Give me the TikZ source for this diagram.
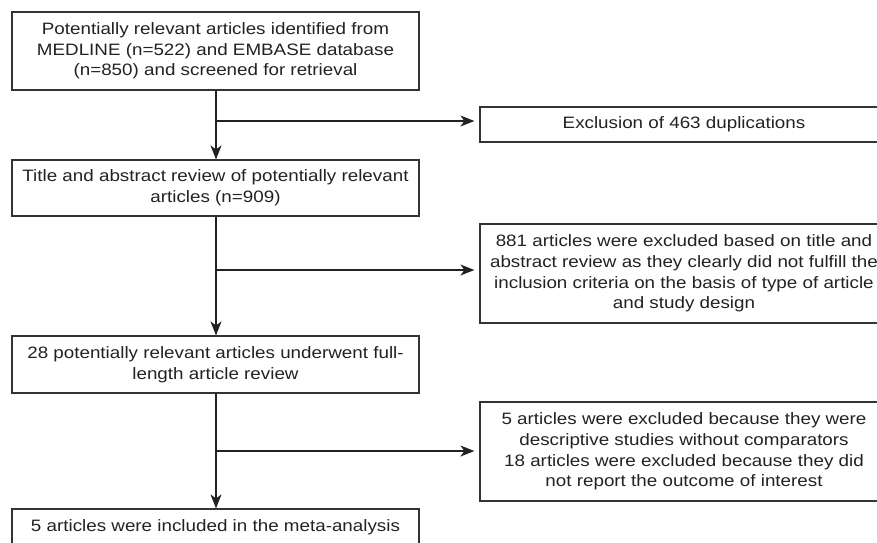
\documentclass[tikz,border=0pt]{standalone}
\usepackage{fontspec}
\setmainfont[FakeStretch=1.14]{Liberation Sans}
\usetikzlibrary{arrows.meta}
\definecolor{ink}{HTML}{222222}
\definecolor{frame}{HTML}{333333}
\begin{document}
\begin{tikzpicture}[x=1pt,y=-1pt,
  box/.style={draw=frame, line width=1.2pt, text=ink, align=center, inner sep=0pt,
    font=\fontsize{16.5}{20.7}\selectfont},
  arr/.style={draw=ink, line width=1.2pt, -{Stealth[length=14pt,width=11pt,inset=4pt]}},
  ln/.style={draw=ink, line width=1.2pt}]
\useasboundingbox (0,0) rectangle (877,542);
\clip (0,0) rectangle (877,542);
% left column
\node[box, minimum width=407pt, minimum height=78pt] (b1) at (215.5,51)
  {Potentially relevant articles identified from\\MEDLINE (n=522) and EMBASE database\\(n=850) and screened for retrieval};
\node[box, minimum width=407pt, minimum height=56pt] (b3) at (215.5,188)
  {Title and abstract review of potentially relevant\\articles (n=909)};
\node[box, minimum width=407pt, minimum height=57pt] (b5) at (215.5,364.5)
  {28 potentially relevant articles underwent full-\\length article review};
\node[box, minimum width=407pt, minimum height=36pt] (b7) at (215.5,527)
  {5 articles were included in the meta-analysis};
% right column
\node[box, minimum width=408pt, minimum height=35pt] (b2) at (684,124.5)
  {Exclusion of 463 duplications};
\node[box, minimum width=408pt, minimum height=99pt] (b4) at (684,273.5)
  {881 articles were excluded based on title and\\abstract review as they clearly did not fulfill the\\inclusion criteria on the basis of type of article\\and study design};
\node[box, minimum width=408pt, minimum height=99pt] (b6) at (684,451.5)
  {5 articles were excluded because they were\\descriptive studies without comparators\\18 articles were excluded because they did\\not report the outcome of interest};
% branch points
\coordinate (j1) at (216,121);
\coordinate (j2) at (216,270);
\coordinate (j3) at (216,451);
% vertical connectors
\draw[arr] (b1.south -| j1) -- (b3.north -| j1);
\draw[arr] (b3.south -| j1) -- (b5.north -| j1);
\draw[arr] (b5.south -| j1) -- (b7.north -| j1);
% side connectors
\draw[arr, shorten >=5pt] (j1) -- (j1 -| b2.west);
\draw[arr, shorten >=5pt] (j2) -- (j2 -| b4.west);
\draw[arr, shorten >=5pt] (j3) -- (j3 -| b6.west);
\end{tikzpicture}
\end{document}
